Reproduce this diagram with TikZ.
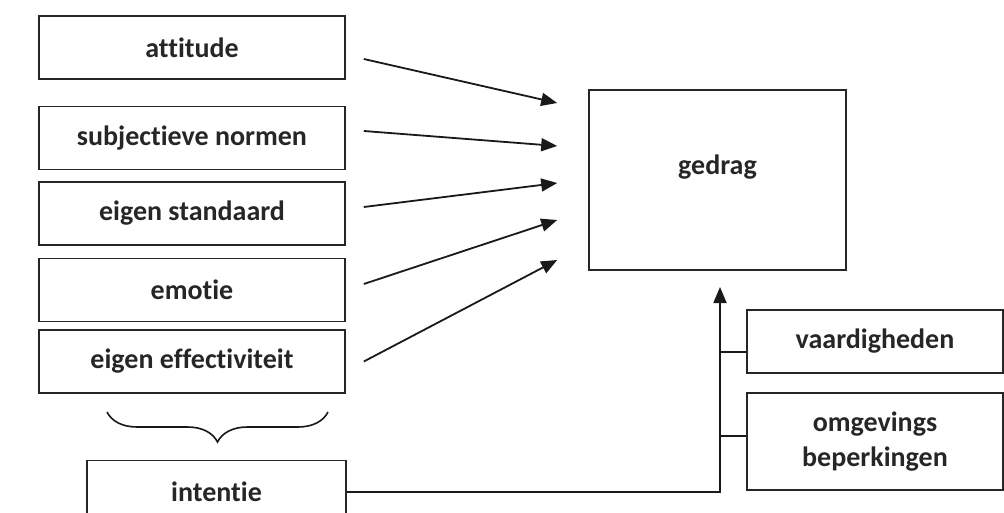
\documentclass[tikz,border=0pt]{standalone}
\usepackage{fontspec}
\setmainfont{Carlito}[Ligatures=NoCommon]
\usetikzlibrary{arrows.meta,decorations.pathreplacing}
\tikzset{
  box/.style={draw=black!85, line width=1.6pt, minimum height=63pt, inner sep=0pt,
    font=\fontsize{28}{35}\selectfont\bfseries, text=black!85},
  arr/.style={-{Triangle[length=16pt,width=13pt]}, line width=1.8pt, black!90},
  conn/.style={line width=1.6pt, black!90}
}
\begin{document}
\begin{tikzpicture}[x=1pt,y=-1pt]
  \useasboundingbox (0,0) rectangle (1004,513);
  \node[box, minimum width=306pt] (att) at (192,47.5) {attitude};
  \node[box, minimum width=306pt] (subj) at (192,138) {subjectieve normen};
  \node[box, minimum width=306pt] (eig) at (192,213.5) {eigen standaard};
  \node[box, minimum width=306pt] (emo) at (192,290) {emotie};
  \node[box, minimum width=306pt] (eff) at (192,361.5) {eigen effectiviteit};
  \node[box, minimum width=259pt] (int) at (216.5,492) {intentie};
  \node[box, minimum width=257pt, minimum height=180pt,
    label={[box, draw=none, yshift=13pt]center:gedrag}] (gedrag) at (717.5,180) {};
  \node[box, minimum width=256pt] (vaard) at (875,341.5) {vaardigheden};
  \node[box, minimum width=256pt, minimum height=97pt, align=center] (omg) at (875,441.5)
    {omgevings\\beperkingen};
  \coordinate (tip) at (720,287);
  % invloeden naar gedrag
  \foreach \n/\s/\t in {att/-11.5/77, subj/7/34, eig/6.5/-3, emo/6/-40, eff/0/-80}
    \draw[arr] ([xshift=18pt,yshift=\s pt]\n.east) -- ([xshift=-31pt,yshift=\t pt]gedrag.west);
  \draw[conn, decorate, decoration={brace, mirror, amplitude=30pt}] (107,412) -- (328,412);
  \draw[arr] (int.east) -| (tip);
  \draw[conn] ([yshift=-10.5pt]vaard.west) -- ++(-27,0);
  \draw[conn] ([yshift=5.5pt]omg.west) -- ++(-27,0);
\end{tikzpicture}
\end{document}
